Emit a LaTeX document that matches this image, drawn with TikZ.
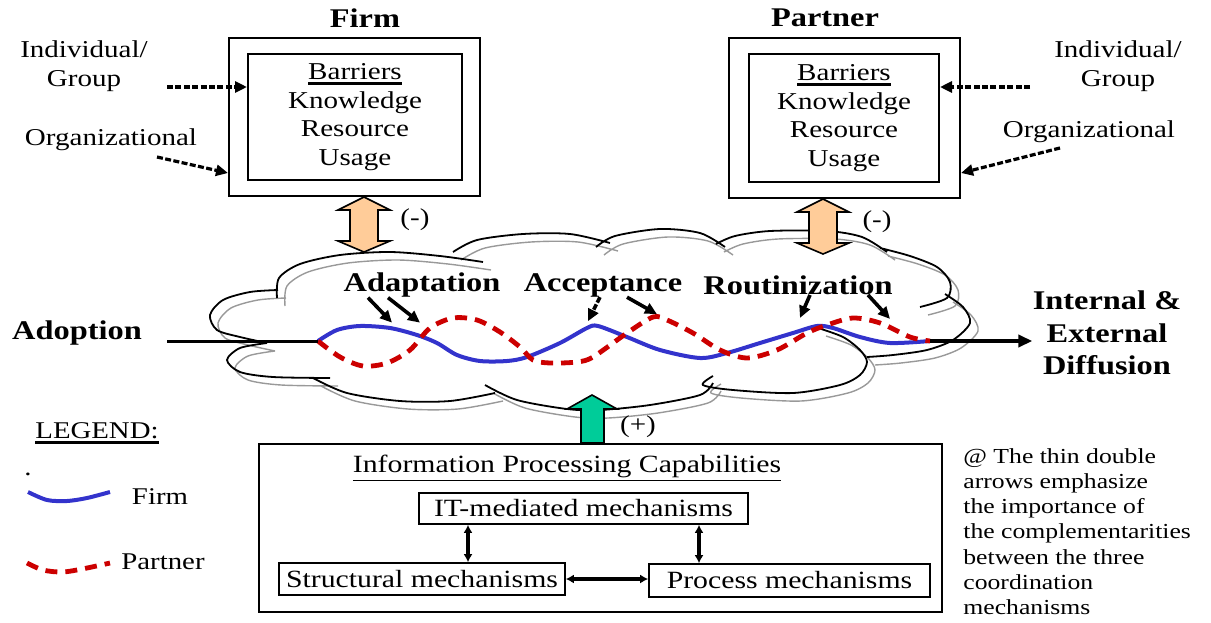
\documentclass[tikz,border=0pt]{standalone}
\usepackage{fontspec}
\setmainfont{Liberation Serif}[FakeStretch=1.2]
\usetikzlibrary{calc, arrows.meta, positioning}

\definecolor{peach}{RGB}{255,204,153}
\definecolor{tealgreen}{RGB}{0,204,153}
\definecolor{firmblue}{RGB}{51,51,204}
\definecolor{partnerred}{RGB}{204,0,0}

\newcommand{\boxfont}{\fontsize{12.1}{14.3}\selectfont}
\newcommand{\headfont}{\bfseries\fontsize{13.5}{16.25}\selectfont}
\newcommand{\mechfont}{\fontsize{12.4}{14}\selectfont}
\newcommand{\notefont}{\fontsize{10.7}{12.6}\selectfont}
\newcommand{\legfont}{\fontsize{12}{14}\selectfont}
% heavier underline for headings
\newcommand{\heavyul}[1]{\setbox0\hbox{#1}\leavevmode\rlap{\rule[-2.6pt]{\wd0}{1.2pt}}\box0}

\begin{document}
\begin{tikzpicture}[
    x=0.5pt, y=-0.5pt,
    every node/.style={inner sep=0pt},
    outbox/.style={draw, line width=1pt},
    inbox/.style={draw, line width=1pt, align=center, font=\boxfont},
    mechbox/.style={draw, line width=0.8pt, font=\mechfont},
    txt/.style={align=center, font=\boxfont},
    headtxt/.style={align=center, font=\headfont},
    infl/.style={line width=1.6pt, dash pattern=on 3pt off 1.2pt, -{Triangle[length=6pt,width=5.5pt]}},
    ptr/.style={line width=1.8pt, -{Triangle[length=6pt,width=5.5pt]}},
    link/.style={line width=2pt, {Latex[length=4pt,width=4.5pt]}-{Latex[length=4pt,width=4.5pt]}},
    blockarr/.style={draw=black, line width=0.8pt},
    firmwave/.style={firmblue, line width=2pt},
    partwave/.style={partnerred, line width=2.4pt, dash pattern=on 6pt off 4pt},
]
\useasboundingbox (0,0) rectangle (1211,622);

% Cloud (grey shadow, then black outline)
\foreach \off/\col/\lw in {8/gray!80/0.7pt, 0/black/0.9pt} {
  \begin{scope}[shift={(\off,\off)}]
    \draw[\col, line width=\lw]
      plot[smooth] coordinates {(277,298) (279,278) (300,264) (340,255) (390,252) (440,256) (483,262)}
      plot[smooth] coordinates {(453,252) (477,240) (523,234) (570,234) (610,243)}
      plot[smooth] coordinates {(596,247) (615,236) (660,229) (700,233) (725,247)}
      plot[smooth] coordinates {(716,244) (735,236) (770,231) (827,231) (862,237) (887,252)}
      plot[smooth] coordinates {(880,248) (910,256) (937,267) (950,282) (947,298) (920,307)}
      plot[smooth] coordinates {(945,294) (963,307) (970,323) (953,340) (927,350) (893,355) (867,357)}
      plot[smooth] coordinates {(818,328) (843,337) (860,350) (867,362) (860,375) (840,385) (793,393) (733,390) (703,385) (713,376)}
      plot[smooth] coordinates {(713,383) (700,395) (650,405) (600,410) (567,409) (517,400) (485,385)}
      plot[smooth] coordinates {(313,378) (347,393) (400,401) (450,401) (495,393)}
      plot[smooth] coordinates {(330,378) (273,377) (240,372) (227,360) (240,348) (267,343)}
      plot[smooth] coordinates {(278,290) (250,292) (223,300) (210,315) (217,330) (240,337) (267,343)};
  \end{scope}
}

% Firm
\node[headtxt] (firmt) at (365,18) {Firm};
\node[outbox, minimum width=125.5pt, minimum height=79pt] (firmout) at (354.5,117) {};
\node[inbox, minimum width=107pt, minimum height=63pt] (firmin) at (355,117)
    {\heavyul{Barriers}\\Knowledge\\Resource\\Usage};

% Partner
\node[headtxt] (partt) at (825,18) {Partner};
\node[outbox, minimum width=115.5pt, minimum height=80pt] (partout) at (844.5,118) {};
\node[inbox, minimum width=95pt, minimum height=64pt] (partin) at (844,118)
    {\heavyul{Barriers}\\Knowledge\\Resource\\Usage};

% Levels of barriers
\node[txt] (indfirm) at (84,66) {Individual/\\Group};
\node[txt] (orgfirm) at (111,140) {Organizational};
\node[txt] (indpart) at (1118,66) {Individual/\\Group};
\node[txt] (orgpart) at (1089,132) {Organizational};

\coordinate (indfirmtail) at (167,87);
\coordinate (orgfirmtail) at (157,157);
\coordinate (indparttail) at (1030,87);
\coordinate (orgparttail) at (1060,148);
\draw[infl] (indfirmtail) -- (firmin.west |- indfirmtail);
\draw[infl] (orgfirmtail) -- (firmout.west |- 0,173);
\draw[infl] (indparttail) -- (partin.east |- indparttail);
\draw[infl] (orgparttail) -- (partout.east |- 0,173);

% Negative influence on the cloud
\filldraw[blockarr, fill=peach] (firmout.south -| 364,0) -- ++(26,13) -- ++(-12,0) -- ++(0,31)
    -- ++(12,0) -- ++(-26,11) -- ++(-26,-11) -- ++(12,0) -- ++(0,-31) -- ++(-12,0) -- cycle;
\filldraw[blockarr, fill=peach] (partout.south -| 823,0) -- ++(26,13) -- ++(-12,0) -- ++(0,31)
    -- ++(12,0) -- ++(-26,11) -- ++(-26,-11) -- ++(12,0) -- ++(0,-31) -- ++(-12,0) -- cycle;
\node[txt] (negfirm) at (415,220) {(-)};
\node[txt] (negpart) at (877,222) {(-)};

% Stages
\node[headtxt] (adapt) at (422,285) {Adaptation};
\node[headtxt] (accept) at (603,285) {Acceptance};
\node[headtxt] (routin) at (798,285) {Routinization};

% Firm and partner paths
\coordinate (wstart) at (318,341);
\coordinate (wend) at (930,341);
\draw[firmwave] plot[smooth] coordinates {(wstart) (337,330) (360,326) (390,328) (417,335) (437,343)
    (457,355) (480,361) (507,361) (527,357) (560,343) (587,328) (598,326) (627,337) (660,350)
    (700,358) (727,353) (760,343) (793,333) (817,326) (833,328) (860,337) (890,343) (wend)};
\draw[partwave] plot[smooth] coordinates {(wstart) (340,357) (363,366) (387,363) (410,350) (430,328)
    (453,318) (477,320) (500,332) (520,347) (533,360) (550,363) (577,362) (593,357) (627,333)
    (653,317) (667,320) (693,333) (720,350) (747,358) (777,350) (807,333) (827,325) (853,318)
    (880,323) (910,337) (wend)};

\draw[ptr] (adapt.south -| 368,0) -- ++(24,25);
\draw[ptr] (adapt.south -| 388,0) -- ++(32,25);
\draw[ptr, dash pattern=on 3pt off 1pt] (accept.south -| 600,0) -- ++(-12,24);
\draw[ptr] (accept.south -| 627,0) -- ++(30,17);
\draw[ptr] (routin.south -| 810,0) -- ++(-10,23);
\draw[ptr] (routin.south -| 868,0) -- ++(22,24);

% Adoption and diffusion
\node[headtxt] (adopt) at (77,333) {Adoption};
\node[headtxt] (diff) at (1107,333) {Internal \&\\External\\Diffusion};
\coordinate (adopttail) at (167,341);
\draw[line width=1.5pt] (adopttail) -- (wstart);
\draw[line width=2.4pt, -{Triangle[length=7pt,width=6pt]}] (wend) -- (wend -| diff.west);

% Information processing capabilities
\node[draw, line width=1pt, minimum width=341.5pt, minimum height=84pt] (ipc) at (600.5,528) {};
\filldraw[blockarr, fill=tealgreen] (ipc.north -| 581,0) -- ++(0,-34) -- ++(-14,0) -- ++(25,-14)
    -- ++(25,14) -- ++(-13,0) -- ++(0,34) -- cycle;
\node[txt] (pos) at (638,427) {(+)};
\node[font=\mechfont] (ipct) at (567,468) {\underline{Information Processing Capabilities}};
\node[mechbox, minimum width=164.5pt, minimum height=15.5pt] (itm) at (583.5,508.5) {IT-mediated mechanisms};
\node[mechbox, minimum width=143pt, minimum height=16pt] (struc) at (422,579) {Structural mechanisms};
\node[mechbox, minimum width=140.5pt, minimum height=16.5pt] (proc) at (789.5,580.5) {Process mechanisms};
\draw[link] (itm.south -| 468,0) -- (struc.north -| 468,0);
\draw[link] (itm.south -| 699,0) -- (proc.north -| 699,0);
\draw[link] (struc.east) -- (struc.east -| proc.west);

\node[font=\notefont, align=left, anchor=north west] (note) at (963,448)
    {@ The thin double\\arrows emphasize\\the importance of\\the complementarities\\between the three\\coordination\\mechanisms};

% Legend
\node[font=\legfont] (leg) at (97,433) {\heavyul{LEGEND:}};
\node[font=\legfont] (legdot) at (28,474) {.};
\draw[firmwave] plot[smooth] coordinates {(28,492) (47,500) (67,501) (87,498) (110,492)};
\node[font=\legfont] (legfirm) at (160,497) {Firm};
\draw[partwave] plot[smooth] coordinates {(27,563) (43,570) (63,572) (87,568) (110,563)};
\node[font=\legfont] (legpart) at (163,562) {Partner};

\end{tikzpicture}
\end{document}
